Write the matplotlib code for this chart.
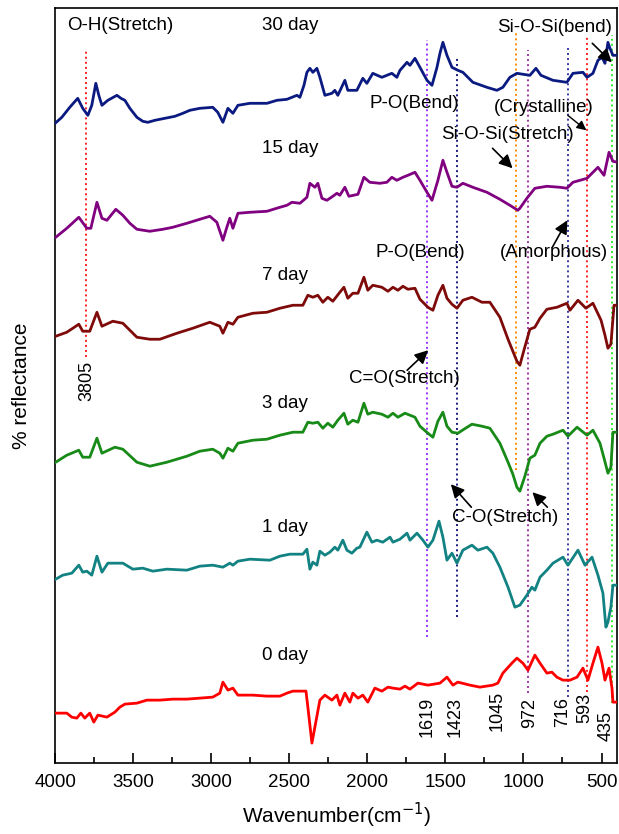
import numpy as np
import matplotlib.pyplot as plt

plt.rcParams['font.family'] = ['Liberation Sans', 'DejaVu Sans']

# FTIR spectra, wavenumber (cm-1) vs stacked % reflectance (arbitrary offset units)
wn_30 = [4000, 3957, 3906, 3855, 3823, 3790, 3765, 3739, 3720, 3700, 3662, 3604, 3578, 3553, 3521,
         3476, 3438, 3406, 3361, 3297, 3233, 3182, 3137, 3073, 2990, 2958, 2925, 2893, 2861, 2829,
         2752, 2643, 2579, 2515, 2451, 2432, 2406, 2387, 2368, 2349, 2323, 2304, 2272, 2227, 2208,
         2189, 2144, 2125, 2067, 2029, 2003, 1965, 1907, 1843, 1811, 1791, 1746, 1727, 1695, 1663,
         1618, 1586, 1554, 1535, 1516, 1490, 1458, 1420, 1388, 1324, 1234, 1170, 1132, 1087, 1042,
         959, 920, 888, 811, 722, 683, 619, 593, 555, 523, 497, 478, 459, 446, 427, 395]
r_30 = [640, 646, 656, 665, 655, 648, 658, 680, 668, 658, 663, 668, 665, 663, 655,
        646, 642, 641, 643, 645, 647, 650, 653, 655, 656, 651, 641, 655, 650, 658,
        660, 660, 663, 664, 668, 666, 678, 691, 695, 691, 695, 686, 668, 670, 673,
        668, 683, 673, 673, 685, 680, 690, 686, 690, 686, 693, 701, 698, 705, 696,
        683, 678, 696, 710, 721, 708, 696, 693, 691, 681, 676, 673, 676, 686, 690,
        688, 695, 688, 683, 681, 690, 691, 686, 690, 703, 706, 700, 721, 715, 708, 708]

wn_15 = [3996, 3925, 3848, 3797, 3771, 3732, 3700, 3668, 3611, 3566, 3521, 3476, 3393, 3310, 3246,
         3156, 3073, 3009, 2964, 2925, 2900, 2881, 2861, 2829, 2752, 2643, 2560, 2515, 2483, 2432,
         2387, 2368, 2336, 2317, 2291, 2259, 2221, 2195, 2176, 2144, 2118, 2060, 2022, 1984, 1920,
         1875, 1843, 1811, 1772, 1740, 1695, 1663, 1618, 1586, 1548, 1516, 1490, 1458, 1426, 1388,
         1324, 1234, 1151, 1087, 1036, 1023, 978, 927, 850, 766, 722, 683, 593, 523, 484,
         452, 427, 395]
r_15 = [526, 535, 546, 535, 535, 561, 545, 543, 554, 548, 540, 534, 532, 534, 536,
        540, 544, 547, 541, 523, 536, 545, 535, 550, 551, 552, 556, 558, 561, 560,
        566, 580, 576, 580, 565, 563, 567, 570, 568, 576, 567, 569, 586, 581, 580,
        581, 586, 583, 586, 588, 591, 583, 571, 563, 583, 603, 591, 577, 576, 580,
        576, 571, 564, 558, 553, 555, 565, 575, 577, 576, 575, 581, 585, 596, 588,
        611, 602, 601]

wn_7 = [3996, 3925, 3848, 3823, 3778, 3732, 3700, 3630, 3566, 3476, 3393, 3329, 3220, 3118, 3009,
        2945, 2925, 2893, 2861, 2829, 2733, 2643, 2560, 2477, 2413, 2381, 2349, 2317, 2285, 2253,
        2221, 2176, 2150, 2125, 2093, 2060, 2022, 1997, 1965, 1907, 1868, 1836, 1804, 1772, 1740,
        1695, 1663, 1612, 1580, 1548, 1516, 1490, 1458, 1426, 1388, 1330, 1266, 1215, 1151, 1099,
        1042, 1023, 997, 959, 927, 894, 850, 785, 722, 702, 651, 600, 555, 503, 478,
        459, 440, 420, 395]
r_7 = [427, 431, 439, 432, 432, 451, 437, 442, 440, 426, 424, 424, 430, 435, 441,
       437, 430, 441, 439, 446, 450, 451, 455, 458, 458, 468, 466, 468, 461, 466,
       462, 471, 476, 465, 470, 470, 486, 473, 478, 476, 472, 476, 473, 477, 474,
       475, 464, 456, 453, 468, 478, 465, 459, 455, 463, 466, 461, 461, 446, 424,
       402, 398, 413, 434, 436, 445, 454, 456, 460, 453, 463, 455, 460, 443, 428,
       415, 419, 458, 458]

wn_3 = [3996, 3925, 3848, 3823, 3778, 3732, 3700, 3617, 3566, 3476, 3393, 3284, 3156, 3073, 2990,
        2945, 2925, 2893, 2861, 2829, 2733, 2643, 2560, 2477, 2413, 2381, 2349, 2317, 2285, 2253,
        2221, 2189, 2150, 2125, 2093, 2060, 2022, 1997, 1965, 1907, 1868, 1836, 1804, 1759, 1727,
        1695, 1663, 1612, 1580, 1548, 1516, 1490, 1458, 1420, 1381, 1330, 1266, 1215, 1151, 1099,
        1068, 1042, 1023, 991, 959, 927, 894, 850, 811, 747, 715, 657, 593, 555, 510,
        484, 459, 440, 427, 395]
r_3 = [301, 308, 313, 306, 306, 325, 310, 316, 314, 301, 297, 301, 307, 312, 314,
       310, 305, 315, 312, 320, 323, 324, 328, 331, 331, 341, 340, 341, 335, 340,
       336, 343, 350, 339, 343, 341, 360, 349, 351, 349, 346, 350, 346, 350, 348,
       346, 337, 330, 326, 342, 351, 337, 331, 330, 334, 339, 337, 335, 320, 301,
       289, 276, 272, 287, 305, 308, 320, 327, 329, 333, 327, 336, 328, 333, 320,
       305, 290, 296, 331, 331]

wn_1 = [3996, 3951, 3893, 3848, 3823, 3797, 3765, 3732, 3700, 3662, 3566, 3502, 3438, 3374, 3284,
        3156, 3073, 2990, 2925, 2881, 2861, 2829, 2752, 2624, 2560, 2496, 2413, 2387, 2368, 2349,
        2323, 2304, 2272, 2240, 2208, 2189, 2157, 2131, 2099, 2067, 2048, 2003, 1971, 1939, 1901,
        1855, 1836, 1791, 1746, 1727, 1682, 1644, 1612, 1580, 1541, 1516, 1490, 1458, 1426, 1388,
        1330, 1292, 1234, 1196, 1151, 1099, 1055, 1023, 978, 946, 927, 894, 850, 811, 747,
        715, 651, 606, 561, 523, 491, 472, 459, 440, 427, 395]
r_1 = [184, 188, 190, 198, 191, 192, 188, 207, 191, 200, 200, 194, 195, 192, 194,
       193, 197, 198, 196, 200, 198, 202, 204, 203, 207, 209, 209, 214, 194, 201,
       198, 212, 208, 211, 216, 213, 223, 213, 210, 215, 216, 231, 221, 223, 221,
       226, 221, 224, 230, 223, 230, 223, 216, 223, 242, 226, 203, 210, 200, 213,
       218, 213, 216, 210, 196, 176, 156, 158, 168, 176, 173, 186, 193, 200, 206,
       198, 213, 198, 206, 188, 170, 136, 141, 156, 178, 178]

wn_0 = [3996, 3925, 3893, 3861, 3835, 3810, 3778, 3752, 3726, 3668, 3617, 3585, 3553, 3476, 3412,
        3329, 3246, 3156, 3073, 2990, 2945, 2925, 2893, 2861, 2829, 2733, 2643, 2560, 2515, 2477,
        2393, 2381, 2355, 2336, 2304, 2272, 2227, 2195, 2176, 2144, 2112, 2093, 2060, 2029, 1997,
        1952, 1907, 1868, 1836, 1791, 1759, 1727, 1676, 1612, 1535, 1490, 1452, 1420, 1343, 1279,
        1196, 1164, 1132, 1074, 1042, 1004, 971, 927, 894, 850, 818, 786, 747, 702, 657,
        619, 587, 555, 523, 497, 478, 452, 433, 427, 395]
r_0 = [50, 50, 46, 45, 50, 45, 50, 41, 48, 46, 51, 56, 59, 60, 63,
       63, 64, 64, 65, 66, 70, 81, 73, 75, 68, 68, 67, 67, 70, 72,
       72, 56, 20, 36, 63, 68, 63, 68, 58, 70, 61, 70, 65, 68, 61,
       75, 72, 76, 75, 74, 77, 74, 80, 78, 80, 86, 78, 81, 78, 76,
       78, 80, 90, 100, 105, 100, 93, 108, 100, 90, 91, 86, 83, 83, 86,
       95, 83, 100, 116, 100, 83, 95, 75, 61, 61]

days = ['30 day', '15 day', '7 day', '3 day', '1 day', '0 day']
day_label_y = [738, 615, 488, 360, 236, 108]
curve_colors = ['#0b1a80', '#800080', '#7f0a0a', '#178a17', '#128282', '#ff0000']

# marked bands
peaks = [3805, 1619, 1423, 1045, 972, 716, 593, 435]
peak_colors = ['#ff2020', '#9a33ff', '#1a1a80', '#ff8c00', '#a035a5', '#3838a8', '#ff2020', '#30ee30']
peak_top = [713, 723, 706, 730, 713, 716, 728, 728]
peak_bottom = [406, 126, 146, 293, 70, 66, 71, 60]

fig = plt.figure(figsize=(6.19, 8.34), dpi=100)
ax = fig.add_axes([0.089, 0.085, 0.908, 0.905])

for wn, r, c in zip([wn_30, wn_15, wn_7, wn_3, wn_1, wn_0],
                    [r_30, r_15, r_7, r_3, r_1, r_0], curve_colors):
    ax.plot(wn, r, color=c, lw=2.0, zorder=3, solid_joinstyle='round')

for p, c, top, bot in zip(peaks, peak_colors, peak_top, peak_bottom):
    ax.plot([p, p], [bot, top], ls=(0, (1, 1.6)), color=c, lw=1.4, zorder=2)

fs = 13.5
# peak numbers (rotated)
ax.text(3795, 382, '3805', rotation=90, ha='center', va='center', fontsize=fs - 0.5)
num_x = [1619, 1440, 1168, 960, 747, 605, 472]
num_y = [46, 46, 52, 50, 51, 55, 37]
for s, x, y in zip(['1619', '1423', '1045', '972', '716', '593', '435'], num_x, num_y):
    ax.text(x, y, s, rotation=90, ha='center', va='center', fontsize=fs - 0.5)

for d, y in zip(days, day_label_y):
    ax.text(2673, y, d, ha='left', va='center', fontsize=fs)

ax.text(3924, 738, 'O-H(Stretch)', ha='left', va='center', fontsize=fs)
ax.text(1700, 660, 'P-O(Bend)', ha='center', va='center', fontsize=fs)
ax.text(1660, 511, 'P-O(Bend)', ha='center', va='center', fontsize=fs)

arr = dict(arrowstyle='-|>', color='k', lw=1.2, mutation_scale=20, shrinkA=0, shrinkB=0)
ax.text(803, 736, 'Si-O-Si(bend)', ha='center', va='center', fontsize=fs)
ax.annotate('', xy=(434, 701), xytext=(559, 720), arrowprops=arr)
ax.text(868, 656, '(Crystalline)', ha='center', va='center', fontsize=fs)
ax.annotate('', xy=(597, 633), xytext=(716, 648), arrowprops=dict(arr, lw=1.0, mutation_scale=14))
ax.text(1103, 629, 'Si-O-Si(Stretch)', ha='center', va='center', fontsize=fs)
ax.annotate('', xy=(1070, 595), xytext=(1198, 615), arrowprops=arr)
ax.text(808, 511, '(Amorphous)', ha='center', va='center', fontsize=fs)
ax.annotate('', xy=(719, 543), xytext=(815, 516), arrowprops=arr)
ax.text(1766, 385, 'C=O(Stretch)', ha='center', va='center', fontsize=fs)
ax.annotate('', xy=(1610, 413), xytext=(1745, 393), arrowprops=arr)
ax.text(1115, 246, 'C-O(Stretch)', ha='center', va='center', fontsize=fs)
ax.annotate('', xy=(1465, 279), xytext=(1334, 256), arrowprops=arr)
ax.annotate('', xy=(943, 271), xytext=(847, 256), arrowprops=arr)

ax.set_xlim(4000, 400)
ax.set_ylim(0, 755)
ax.set_xticks([4000, 3500, 3000, 2500, 2000, 1500, 1000, 500])
ax.set_xticks(np.arange(3750, 400, -500), minor=True)
ax.tick_params(axis='x', which='major', direction='in', length=7, width=1.2, labelsize=fs, pad=8)
ax.tick_params(axis='x', which='minor', direction='in', length=4, width=1.2)
ax.set_yticks([])
for s in ax.spines.values():
    s.set_linewidth(1.2)

ax.set_xlabel('Wavenumber(cm$^{-1}$)', fontsize=15, labelpad=7)
ax.set_ylabel('% reflectance', fontsize=15, labelpad=17)

fig.savefig('out.png', dpi=100)
